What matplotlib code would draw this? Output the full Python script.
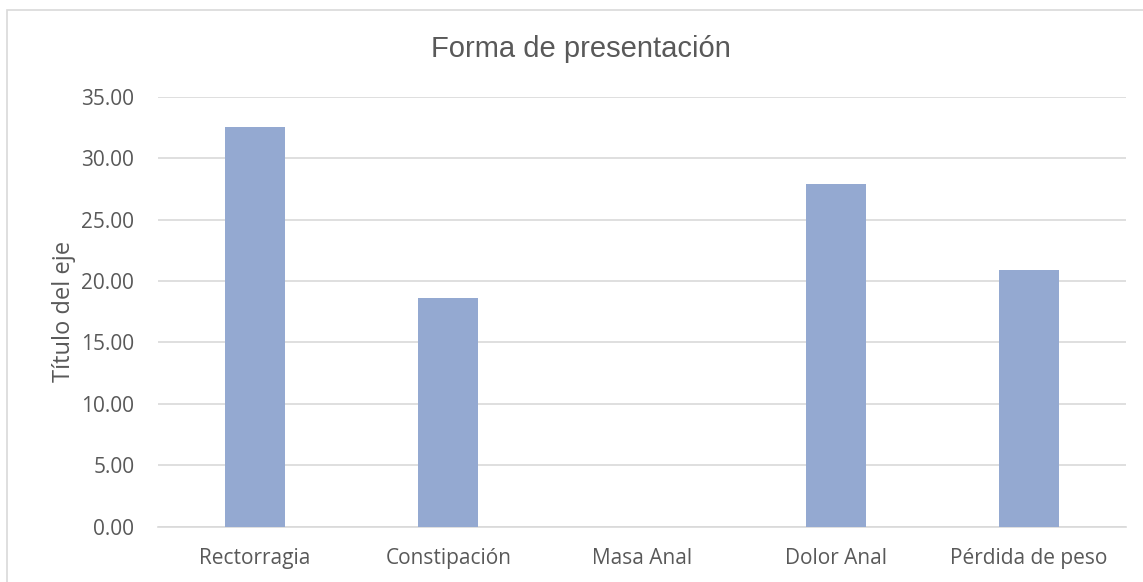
import matplotlib.pyplot as plt
from matplotlib.patches import Rectangle

categorias = ['Rectorragia', 'Constipación', 'Masa Anal', 'Dolor Anal', 'Pérdida de peso']
porcentajes = [32.56, 18.60, 0.00, 27.91, 20.93]
ticks_y = [0, 5, 10, 15, 20, 25, 30, 35]

gris_texto = '#595959'
gris_linea = '#d9d9d9'
azul_barra = '#94a9d1'

plt.rcParams['font.family'] = ['Open Sans', 'DejaVu Sans']

fig = plt.figure(figsize=(11.43, 5.82), dpi=100)
ax = fig.add_axes([0.1382, 0.0950, 0.8469, 0.7388])

# marco del área del gráfico
fig.patches.append(Rectangle((7 / 1143, -0.05), 1.2, 1 - 10 / 582 + 0.05,
                             transform=fig.transFigure, fill=False,
                             edgecolor=gris_linea, linewidth=1.2))

x = range(len(categorias))
ax.bar(x, porcentajes, width=0.31, color=azul_barra, zorder=3)

ax.set_xlim(-0.5, len(categorias) - 0.5)
ax.set_ylim(0, 35)
ax.set_yticks(ticks_y)
ax.set_yticklabels([f'{v:.2f}' for v in ticks_y])
ax.set_xticks(list(x))
ax.set_xticklabels(categorias)

ax.yaxis.grid(True, color=gris_linea, linewidth=1.2, zorder=0)
ax.set_axisbelow(True)
for lado in ['top', 'right', 'left']:
    ax.spines[lado].set_visible(False)
ax.spines['bottom'].set_color(gris_linea)
ax.spines['bottom'].set_linewidth(1.2)

ax.tick_params(axis='both', length=0, labelsize=15, labelcolor=gris_texto)
ax.tick_params(axis='y', pad=17)
ax.tick_params(axis='x', pad=15)

ax.set_ylabel('Título del eje', fontsize=17, color=gris_texto, labelpad=4)

fig.text(0.508, 1 - 49 / 582, 'Forma de presentación', ha='center', va='center',
         fontsize=21, color=gris_texto, family=['Liberation Sans', 'DejaVu Sans'])

fig.savefig('out.png', dpi=100)
